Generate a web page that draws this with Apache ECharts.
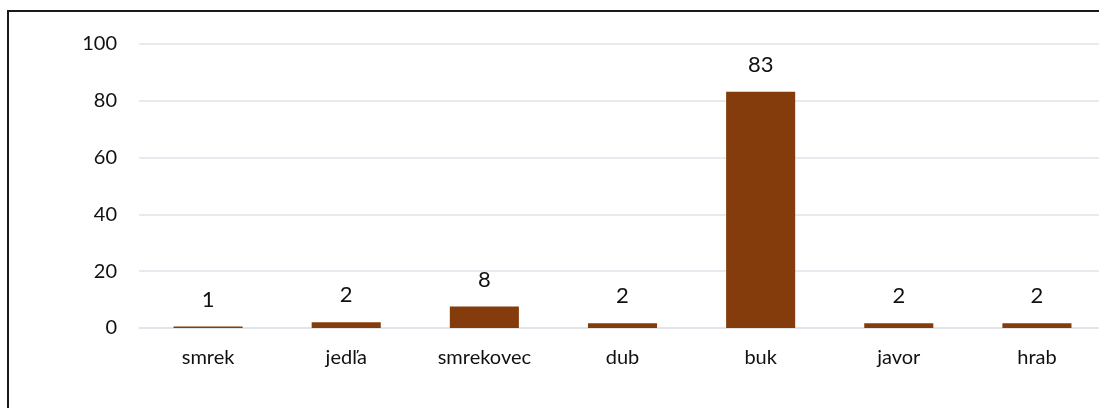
<!DOCTYPE html>
<html>
<head>
<meta charset="utf-8">
<script src="https://cdn.jsdelivr.net/npm/echarts@6/dist/echarts.min.js"></script>
<style>
  html, body { margin: 0; padding: 0; background: #fff; overflow: hidden; }
  #chart { width: 1099px; height: 408px; }
  .frame {
    position: absolute;
    left: 7px;
    top: 10px;
    width: 1120px;
    height: 440px;
    border: 2px solid #1a1a1a;
    pointer-events: none;
  }
</style>
</head>
<body>
<div id="chart"></div>
<div class="frame"></div>
<script>
// drevina a podiel (%)
const categories = ['smrek', 'jedľa', 'smrekovec', 'dub', 'buk', 'javor', 'hrab']
const values = [0.5, 2.0, 7.6, 1.7, 83.2, 1.7, 1.7]
const yTicks = { min: 0, max: 100, interval: 20 }

const chart = echarts.init(document.getElementById('chart'))

const option = {
  animation: false,
  textStyle: { fontFamily: 'Lato, "Noto Sans", sans-serif' },
  grid: { left: 139, top: 44, width: 967, height: 284, outerBoundsMode: 'none', containLabel: false },
  xAxis: {
    type: 'category',
    data: categories,
    axisLine: { lineStyle: { color: '#dfe3ea', width: 1.5 } },
    axisTick: { show: false },
    axisLabel: {
      color: '#111',
      fontSize: 20,
      margin: 20,
      interval: 0
    }
  },
  yAxis: {
    type: 'value',
    min: yTicks.min,
    max: yTicks.max,
    interval: yTicks.interval,
    axisLine: { show: false },
    axisTick: { show: false },
    axisLabel: {
      color: '#111',
      fontSize: 20,
      margin: 22
    },
    splitLine: { lineStyle: { color: '#dfe3ea', width: 1.5 } }
  },
  series: [
    {
      type: 'bar',
      data: values,
      barWidth: '50%',
      itemStyle: { color: '#843c0c' },
      label: {
        show: true,
        position: 'top',
        distance: 16,
        color: '#111',
        fontSize: 22,
        formatter: (p) => `${Math.round(p.value)}`
      }
    }
  ]
}

chart.setOption(option)
</script>
</body>
</html>
